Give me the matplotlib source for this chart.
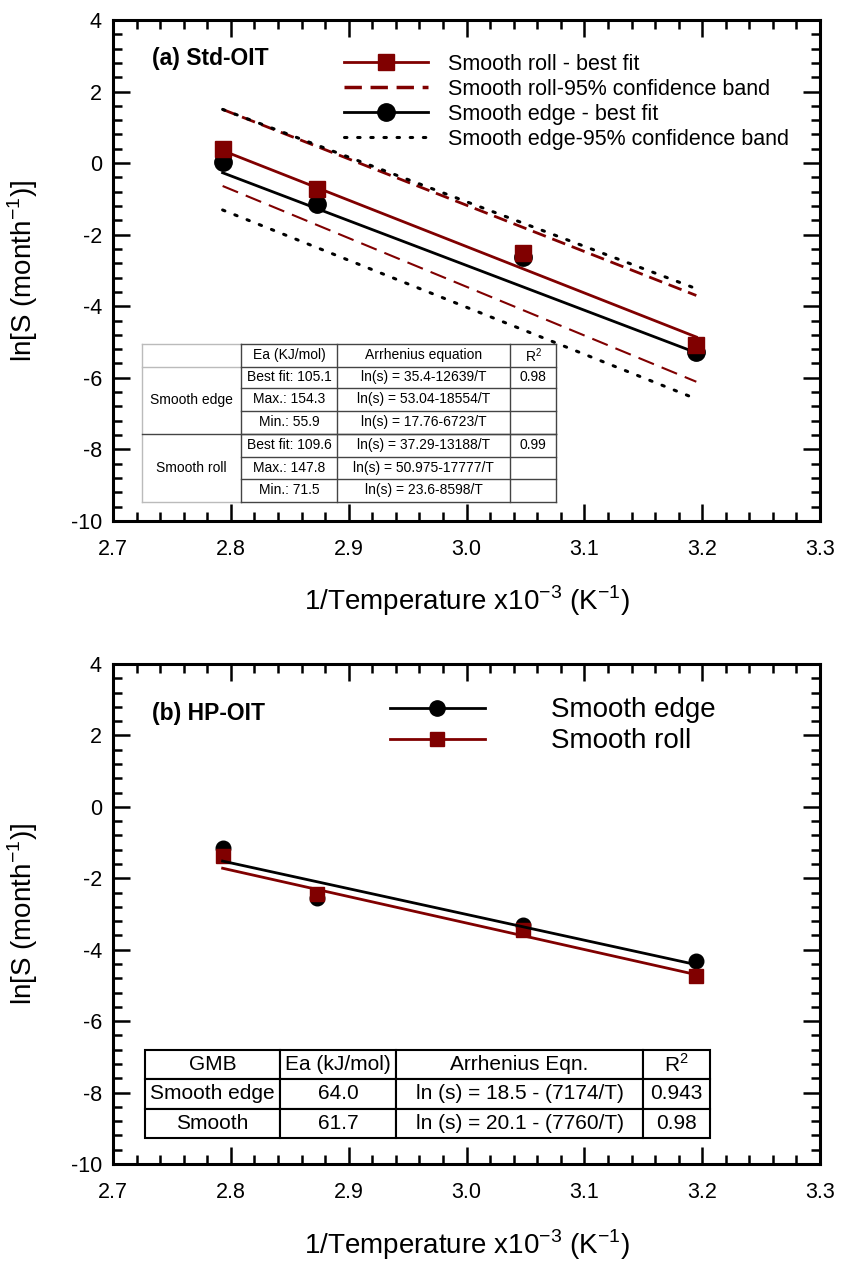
import numpy as np
import matplotlib
matplotlib.use("Agg")
import matplotlib.pyplot as plt
from matplotlib.ticker import MultipleLocator
from matplotlib.lines import Line2D

plt.rcParams['font.family'] = ['Liberation Sans', 'DejaVu Sans']
plt.rcParams['mathtext.fontset'] = 'custom'
plt.rcParams['mathtext.rm'] = 'Liberation Sans'
plt.rcParams['axes.unicode_minus'] = False

DRED = '#800000'

# 1/T (x10^-3 K^-1) of the four test temperatures
inv_t = [2.793, 2.873, 3.048, 3.195]
fit_x = [2.793, 3.195]

# (a) Std-OIT
a_edge = [0.03, -1.15, -2.62, -5.28]
a_roll = [0.40, -0.72, -2.50, -5.07]
a_edge_fit = [-0.27, -5.30]
a_roll_fit = [0.35, -4.86]
a_edge_up = [1.50, -3.51]
a_edge_lo = [-1.31, -6.59]
a_roll_up = [1.50, -3.70]
a_roll_lo = [-0.64, -6.11]

# (b) HP-OIT
b_edge = [-1.15, -2.55, -3.31, -4.33]
b_roll = [-1.38, -2.45, -3.45, -4.73]
b_edge_fit = [-1.52, -4.42]
b_roll_fit = [-1.72, -4.70]

tab_a_head = ['', 'Ea (KJ/mol)', 'Arrhenius equation', 'R$^2$']
tab_a_groups = ['Smooth edge', 'Smooth roll']
tab_a_ea = ['Best fit: 105.1', 'Max.: 154.3', 'Min.: 55.9',
            'Best fit: 109.6', 'Max.: 147.8', 'Min.: 71.5']
tab_a_eq = ['ln(s) = 35.4-12639/T', 'ln(s) = 53.04-18554/T', 'ln(s) = 17.76-6723/T',
            'ln(s) = 37.29-13188/T', 'ln(s) = 50.975-17777/T', 'ln(s) = 23.6-8598/T']
tab_a_r2 = ['0.98', '', '', '0.99', '', '']

tab_b = [['GMB', 'Ea (kJ/mol)', 'Arrhenius Eqn.', 'R$^2$'],
         ['Smooth edge', '64.0', 'ln (s) = 18.5 - (7174/T)', '0.943'],
         ['Smooth', '61.7', 'ln (s) = 20.1 - (7760/T)', '0.98']]


def style_axes(ax):
    ax.set_xlim(2.7, 3.3)
    ax.set_ylim(-10, 4)
    ax.xaxis.set_major_locator(MultipleLocator(0.1))
    ax.xaxis.set_minor_locator(MultipleLocator(0.02))
    ax.yaxis.set_major_locator(MultipleLocator(2))
    ax.yaxis.set_minor_locator(MultipleLocator(0.4))
    ax.xaxis.set_major_formatter(matplotlib.ticker.FormatStrFormatter('%.1f'))
    ax.tick_params(which='both', direction='in', top=True, right=True, width=1.8)
    ax.tick_params(which='major', length=12)
    ax.tick_params(which='minor', length=6.5)
    ax.tick_params(axis='x', which='major', labelsize=15.5, pad=13)
    ax.tick_params(axis='y', which='major', labelsize=15.5, pad=8)
    for s in ax.spines.values():
        s.set_linewidth(2.2)
    ax.set_xlabel('1/Temperature x10$^{-3}$ (K$^{-1}$)', fontsize=20)
    ax.set_ylabel('ln[S (month$^{-1}$)]', fontsize=20)
    ax.yaxis.set_label_coords(-0.103, 0.5)


fig = plt.figure(figsize=(8.41, 12.70), dpi=100)

# ---------------- panel (a)
ax = fig.add_axes([0.1344, 0.5898, 0.8407, 0.3945])
style_axes(ax)
ax.xaxis.set_label_coords(0.5, -0.125)

ax.plot(fit_x, a_roll_up, color=DRED, lw=2, ls=(0, (5, 2.5)), zorder=2)
ax.plot(fit_x, a_roll_lo, color=DRED, lw=1.5, ls=(0, (8, 4)), zorder=2)
ax.plot(fit_x, a_edge_up, color='black', lw=2.2, ls=(0, (0.8, 3.5)), dash_capstyle='round', zorder=2)
ax.plot(fit_x, a_edge_lo, color='black', lw=2.2, ls=(0, (0.8, 3.5)), dash_capstyle='round', zorder=2)
ax.plot(fit_x, a_edge_fit, color='black', lw=2, zorder=3)
ax.plot(fit_x, a_roll_fit, color=DRED, lw=2, zorder=3)
ax.plot(inv_t, a_edge, 'o', color='black', ms=12.5, zorder=4)
ax.plot(inv_t, a_roll, 's', color=DRED, ms=12, zorder=5)

h_a = [Line2D([], [], color=DRED, lw=2, marker='s', ms=12),
       Line2D([], [], color=DRED, lw=2.5, ls=(0, (5, 2.5))),
       Line2D([], [], color='black', lw=2, marker='o', ms=12.5),
       Line2D([], [], color='black', lw=2.2, ls=(0, (0.8, 3.5)), dash_capstyle='round')]
l_a = ['Smooth roll - best fit', 'Smooth roll-95% confidence band',
       'Smooth edge - best fit', 'Smooth edge-95% confidence band']
ax.legend(h_a, l_a, loc='upper left', bbox_to_anchor=(0.327, 0.932), frameon=False,
          fontsize=15.5, handlelength=3.9, handletextpad=0.9, labelspacing=0.18,
          borderpad=0, borderaxespad=0, numpoints=1)
ax.text(0.055, 0.924, '(a) Std-OIT', transform=ax.transAxes, fontsize=16.5,
        fontweight='bold', va='center', ha='left')

# table (a), drawn by hand because of merged cells
cx = [0.041, 0.181, 0.317, 0.5615, 0.6266]
ry = [0.3533, 0.3074, 0.2655, 0.2196, 0.1737, 0.1277, 0.0838, 0.0379]
tr = ax.transAxes
ax.add_patch(plt.Rectangle((cx[0], ry[-1]), cx[-1] - cx[0], ry[0] - ry[-1],
                           transform=tr, facecolor='white', edgecolor='none', zorder=6))
lc, lw_t = '#444444', 1.0
gc = '#bbbbbb'
ax.plot([cx[0], cx[0]], [ry[0], ry[-1]], color=gc, lw=lw_t, transform=tr, zorder=7)
ax.plot([cx[0], cx[1]], [ry[0], ry[0]], color=gc, lw=lw_t, transform=tr, zorder=7)
ax.plot([cx[0], cx[1]], [ry[-1], ry[-1]], color=gc, lw=lw_t, transform=tr, zorder=7)
ax.plot([cx[0], cx[1]], [ry[1], ry[1]], color=gc, lw=lw_t, transform=tr, zorder=7)
ax.plot([cx[0], cx[-1]], [ry[4], ry[4]], color=lc, lw=lw_t, transform=tr, zorder=7)
for x in cx[1:]:
    ax.plot([x, x], [ry[0], ry[-1]], color=lc, lw=lw_t, transform=tr, zorder=7)
for y in ry:
    ax.plot([cx[1], cx[-1]], [y, y], color=lc, lw=lw_t, transform=tr, zorder=7)
fs_a = 10
for j, txt in enumerate(tab_a_head):
    ax.text((cx[j] + cx[j + 1]) / 2, (ry[0] + ry[1]) / 2, txt, transform=tr, ha='center',
            va='center', fontsize=fs_a, zorder=8)
for g, txt in enumerate(tab_a_groups):
    ax.text((cx[0] + cx[1]) / 2, (ry[1 + 3 * g] + ry[4 + 3 * g]) / 2, txt, transform=tr,
            ha='center', va='center', fontsize=fs_a, zorder=8)
for i in range(6):
    yc = (ry[i + 1] + ry[i + 2]) / 2
    for j, col in enumerate([tab_a_ea, tab_a_eq, tab_a_r2]):
        ax.text((cx[j + 1] + cx[j + 2]) / 2, yc, col[i], transform=tr, ha='center',
                va='center', fontsize=fs_a, zorder=8)

# ---------------- panel (b)
ax = fig.add_axes([0.1344, 0.0835, 0.8407, 0.3937])
style_axes(ax)
ax.xaxis.set_label_coords(0.5, -0.128)

ax.plot(inv_t, b_edge, 'o', color='black', ms=10.5, zorder=3)
ax.plot(inv_t, b_roll, 's', color=DRED, ms=10, zorder=4)
ax.plot(fit_x, b_roll_fit, color=DRED, lw=2, zorder=5)
ax.plot(fit_x, b_edge_fit, color='black', lw=2, zorder=6)

h_b = [Line2D([], [], color='black', lw=2, marker='o', ms=11),
       Line2D([], [], color=DRED, lw=2, marker='s', ms=10.5)]
ax.legend(h_b, ['Smooth edge', 'Smooth roll'], loc='upper left', bbox_to_anchor=(0.392, 0.933),
          frameon=False, fontsize=20, handlelength=3.4, handletextpad=2.4, labelspacing=0.18,
          borderpad=0, borderaxespad=0, numpoints=1)
ax.text(0.055, 0.9, '(b) HP-OIT', transform=ax.transAxes, fontsize=16.5,
        fontweight='bold', va='center', ha='left')

tb = ax.table(cellText=tab_b, cellLoc='center',
              bbox=[0.0453, 0.052, 0.7991, 0.176],
              colWidths=[0.2362 - 0.0453, 0.4003 - 0.2362, 0.7496 - 0.4003, 0.8444 - 0.7496])
tb.auto_set_font_size(False)
for (r, c), cell in tb.get_celld().items():
    cell.set_linewidth(1.5)
    cell.set_edgecolor('black')
    cell.get_text().set_fontsize(15)
    cell.PAD = 0.02
tb.set_zorder(8)

fig.savefig('out.png', dpi=100)
